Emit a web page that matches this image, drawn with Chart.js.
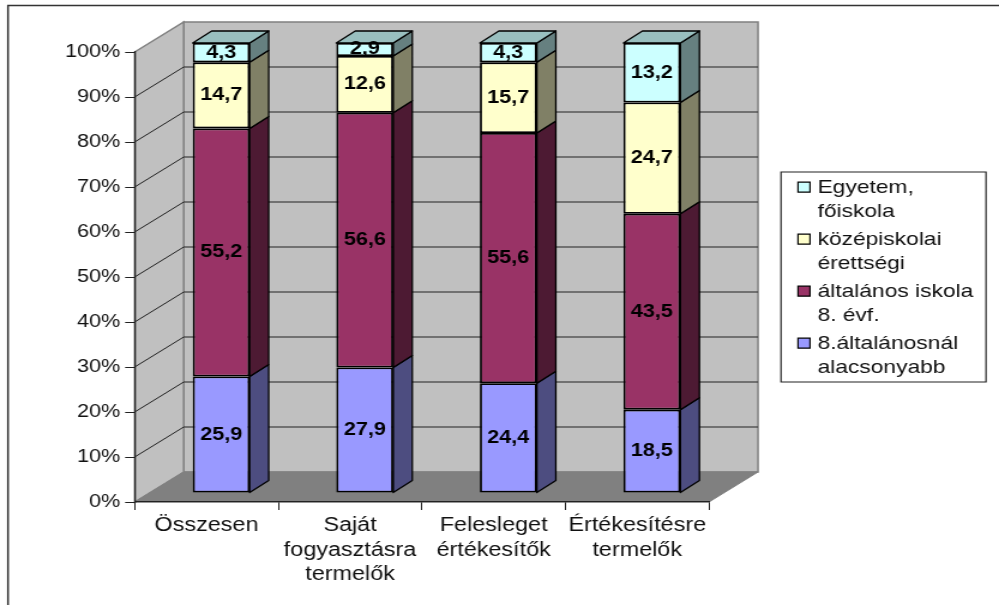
<!DOCTYPE html>
<html>
<head>
<meta charset="utf-8">
<title>Végzettség</title>
<style>
  html, body { margin: 0; padding: 0; background: #fff; overflow: hidden; }
  /* the reference is a sideways stretched picture, so the canvas is too */
  canvas { display: block; width: 999px !important; height: 605px !important; }
</style>
<script src="https://cdn.jsdelivr.net/npm/chart.js@4/dist/chart.umd.js"></script>
</head>
<body>
<canvas id="canvas" width="833" height="605"></canvas>
<script>
const categories = ['Összesen', ['Saját', 'fogyasztásra', 'termelők'], ['Felesleget', 'értékesítők'], ['Értékesítésre', 'termelők']];
const alacsonyabb = [25.9, 27.9, 24.4, 18.5];
const altalanos = [55.2, 56.6, 55.6, 43.5];
const kozepiskolai = [14.7, 12.6, 15.7, 24.7];
const egyetem = [4.3, 2.9, 4.3, 13.2];
const seriesNames = ['8.általánosnál alacsonyabb', 'általános iskola 8. évf.', 'középiskolai érettségi', 'Egyetem, főiskola'];
const legendLines = [['Egyetem,', 'főiskola'], ['középiskolai', 'érettségi'], ['általános iskola', '8. évf.'], ['8.általánosnál', 'alacsonyabb']];
const colors = ['#9999FF', '#993366', '#FFFFCC', '#CCFFFF'];
const legendColors = ['#CCFFFF', '#FFFFCC', '#993366', '#9999FF'];
const sideColors = ['#4D4D80', '#4D1A33', '#808066', '#668080'];
const topColor = '#99BFBF';

const k = 999 / 833;          // sideways stretch
const font = 'Liberation Sans, Arial, sans-serif';
const wallX = 49 / k, wallY = 30;    // depth of the floor
const barX = 14.7 / k, barY = 9;     // how far into the floor the bars stand
const sideX = 19 / k, sideY = 12;    // depth of one bar

const seriesValues = [alacsonyabb, altalanos, kozepiskolai, egyetem];
// 100% stacked: share of the column sum
function share(i, j) {
  let sum = 0;
  seriesValues.forEach(s => sum += s[j]);
  return seriesValues[i][j] / sum * 100;
}

function poly(ctx, pts, fill, stroke, lw) {
  ctx.beginPath();
  pts.forEach((p, i) => i ? ctx.lineTo(p[0], p[1]) : ctx.moveTo(p[0], p[1]));
  ctx.closePath();
  if (fill) { ctx.fillStyle = fill; ctx.fill(); }
  if (stroke) { ctx.strokeStyle = stroke; ctx.lineWidth = lw; ctx.stroke(); }
}

const room = {
  id: 'room',
  beforeDraw(chart) {
    const ctx = chart.ctx, x = chart.scales.x, y = chart.scales.y;
    const l = x.left, r = x.right, t = y.top, b = y.bottom;
    ctx.save();
    ctx.fillStyle = '#fff';
    ctx.fillRect(0, 0, chart.width, chart.height);

    // outer frame
    ctx.strokeStyle = '#333';
    ctx.lineWidth = 1.5;
    ctx.beginPath();
    ctx.moveTo(8 / k, 606);
    ctx.lineTo(8 / k, 5.5);
    ctx.lineTo(chart.width + 2, 5.5);
    ctx.stroke();

    // walls and floor
    poly(ctx, [[l + wallX, t - wallY], [r + wallX, t - wallY], [r + wallX, b - wallY], [l + wallX, b - wallY]], '#C0C0C0', '#808080', 1.5);
    poly(ctx, [[l, t], [l + wallX, t - wallY], [l + wallX, b - wallY], [l, b]], '#C0C0C0', '#808080', 1.5);
    poly(ctx, [[l, b], [l + wallX, b - wallY], [r + wallX, b - wallY], [r, b]], '#808080', '#808080', 1);

    // grid lines run along the side wall and then the back wall
    y.ticks.forEach(tick => {
      if (tick.value === 0 || tick.value === 100) return;
      const py = y.getPixelForValue(tick.value);
      ctx.beginPath();
      ctx.moveTo(l, py);
      ctx.lineTo(l + wallX, py - wallY);
      ctx.lineTo(r + wallX, py - wallY);
      ctx.strokeStyle = '#222';
      ctx.lineWidth = 1;
      ctx.stroke();
    });
    ctx.restore();
  },
  beforeDatasetsDraw(chart) {
    const ctx = chart.ctx;
    ctx.save();
    ctx.translate(barX, -barY);
    ctx.lineJoin = 'round';
    chart.data.datasets.forEach((ds, i) => {
      chart.getDatasetMeta(i).data.forEach(bar => {
        const right = bar.x + bar.width / 2, left = bar.x - bar.width / 2;
        poly(ctx, [[right, bar.y], [right + sideX, bar.y - sideY], [right + sideX, bar.base - sideY], [right, bar.base]], sideColors[i], '#000', 1.3);
        if (i === chart.data.datasets.length - 1) {
          poly(ctx, [[left, bar.y], [left + sideX, bar.y - sideY], [right + sideX, bar.y - sideY], [right, bar.y]], topColor, '#000', 1.3);
        }
      });
    });
  },
  afterDatasetsDraw(chart) {
    const ctx = chart.ctx;
    ctx.font = 'bold 18px ' + font;
    ctx.fillStyle = '#000';
    ctx.textAlign = 'center';
    ctx.textBaseline = 'middle';
    seriesValues.forEach((vals, i) => {
      chart.getDatasetMeta(i).data.forEach((bar, j) => {
        ctx.fillText(String(vals[j]).replace('.', ','), bar.x, (bar.y + bar.base) / 2);
      });
    });
    ctx.restore();
  },
  afterDraw(chart) {
    const ctx = chart.ctx;
    ctx.save();
    poly(ctx, [[781 / k, 172], [986 / k, 172], [986 / k, 382], [781 / k, 382]], '#fff', '#222', 1.2);
    ctx.font = '19px ' + font;
    ctx.textAlign = 'left';
    ctx.textBaseline = 'alphabetic';
    let baseline = 192.7;
    legendLines.forEach((lines, i) => {
      const my = baseline - 10.5;
      poly(ctx, [[798 / k, my], [810 / k, my], [810 / k, my + 10], [798 / k, my + 10]], legendColors[i], '#000', 1.2);
      ctx.fillStyle = '#111';
      lines.forEach((line, n) => ctx.fillText(line, 817.5 / k, baseline + n * 24));
      baseline += 52;
    });
    ctx.restore();
  }
};

new Chart(document.getElementById('canvas'), {
  type: 'bar',
  data: {
    labels: categories,
    datasets: seriesValues.map((vals, i) => ({
      label: seriesNames[i],
      data: vals.map((v, j) => share(i, j)),
      backgroundColor: colors[i],
      borderColor: '#000',
      borderWidth: 1.8,
      borderSkipped: false,
      clip: false,
      categoryPercentage: 57 / 143.6,
      barPercentage: 1
    }))
  },
  options: {
    responsive: false,
    animation: false,
    devicePixelRatio: 1,
    layout: { padding: { left: 0, top: 52, right: (999 - 709) / k, bottom: 0 } },
    plugins: { legend: { display: false }, tooltip: { enabled: false } },
    scales: {
      x: {
        stacked: true,
        afterFit: s => { s.height = 103; },
        grid: {
          offset: true,
          drawOnChartArea: false,
          tickLength: 8,
          tickColor: c => c.index === 4 ? '#808080' : '#222',
          color: '#222'
        },
        border: { color: '#222', width: 1.3 },
        ticks: { color: '#111', font: { family: font, size: 19.5, lineHeight: 1.27 }, maxRotation: 0, autoSkip: false, padding: 3 }
      },
      y: {
        stacked: true,
        min: 0,
        max: 100,
        afterFit: s => { s.width = 134.7 / k; },
        grid: { drawOnChartArea: false, tickLength: 8, color: '#222' },
        border: { color: '#222', width: 1.3 },
        ticks: { stepSize: 10, color: '#111', font: { family: font, size: 18 }, padding: 4, callback: v => v + '%' }
      }
    }
  },
  plugins: [room]
});
</script>
</body>
</html>
